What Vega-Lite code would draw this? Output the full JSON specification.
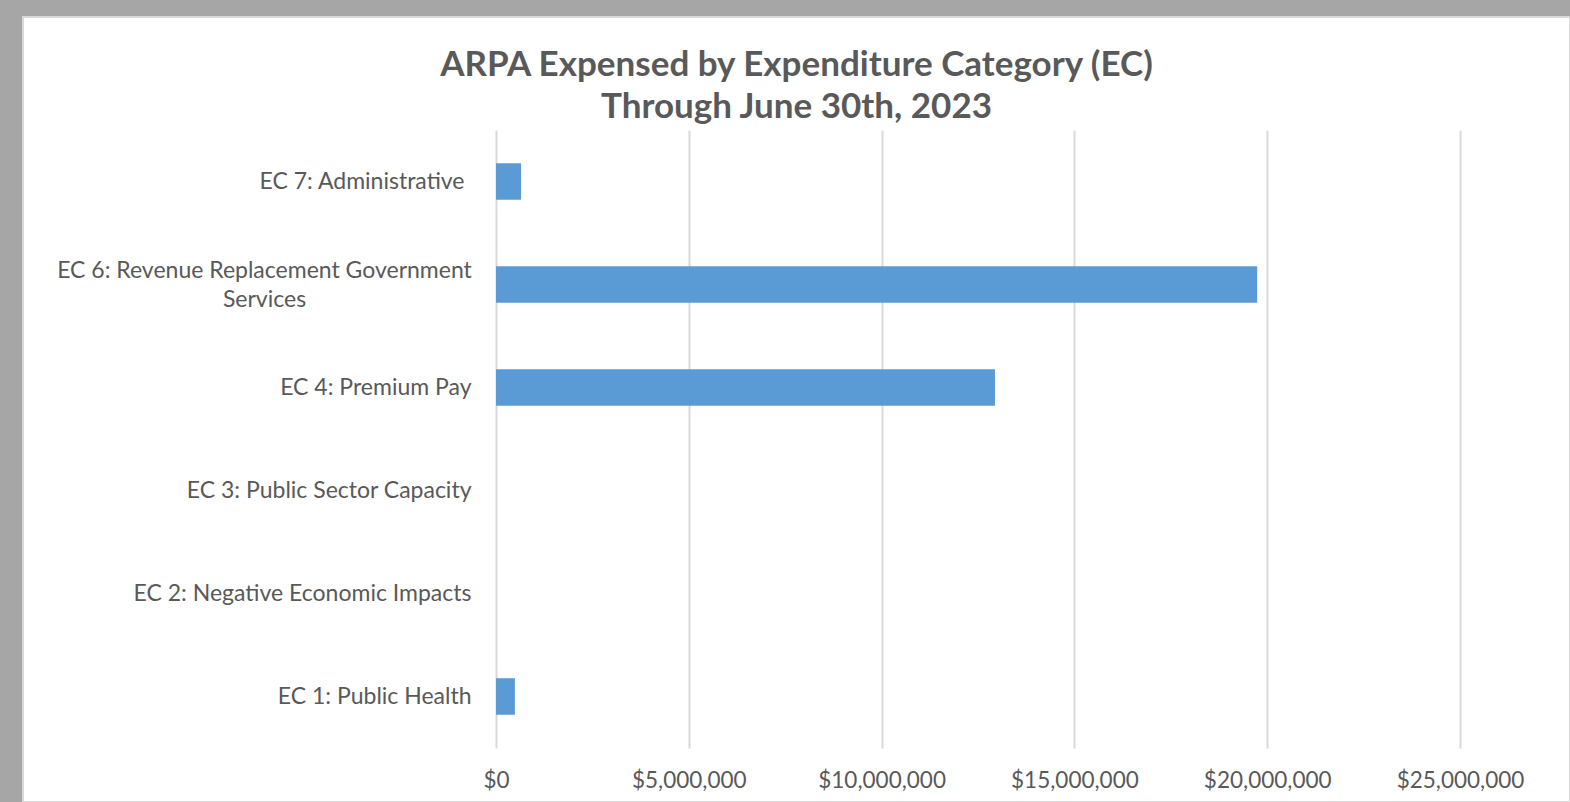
{
  "$schema": "https://vega.github.io/schema/vega-lite/v6.json",
  "width": 1547,
  "height": 785,
  "autosize": {"type": "none"},
  "padding": {"left": 23, "top": 17, "right": 0, "bottom": 0},
  "background": "#a6a6a6",
  "config": {
    "view": {"fill": "#ffffff", "stroke": "#d9d9d9", "strokeWidth": 2},
    "font": "Lato"
  },
  "title": {
    "text": ["ARPA Expensed by Expenditure Category (EC)", "Through June 30th, 2023"],
    "font": "Lato",
    "fontSize": 35,
    "fontWeight": "bold",
    "color": "#595959",
    "lineHeight": 42,
    "anchor": "middle",
    "offset": -108
  },
  "data": {
    "values": [
      {"category": "EC 7: Administrative", "expensed": 650000},
      {"category": "EC 6: Revenue Replacement Government Services", "expensed": 19740000},
      {"category": "EC 4: Premium Pay", "expensed": 12940000},
      {"category": "EC 3: Public Sector Capacity", "expensed": 0},
      {"category": "EC 2: Negative Economic Impacts", "expensed": 0},
      {"category": "EC 1: Public Health", "expensed": 490000}
    ]
  },
  "mark": {"type": "bar", "color": "#5b9bd5", "strokeWidth": 0},
  "encoding": {
    "y": {
      "field": "category",
      "type": "nominal",
      "sort": null,
      "scale": {
        "domain": [
          "EC 7: Administrative",
          "EC 6: Revenue Replacement Government Services",
          "EC 4: Premium Pay",
          "EC 3: Public Sector Capacity",
          "EC 2: Negative Economic Impacts",
          "EC 1: Public Health"
        ],
        "range": [113, 731],
        "paddingInner": 0.645,
        "paddingOuter": 0.3225,
        "round": false
      },
      "axis": {
        "title": null,
        "orient": "left",
        "offset": -450,
        "ticks": false,
        "domain": false,
        "grid": false,
        "labelFont": "Lato",
        "labelFontSize": 23,
        "labelColor": "#595959",
        "labelLimit": 0,
        "labelLineHeight": 29,
        "labelBaseline": "middle",
        "labelExpr": "datum.value == 'EC 6: Revenue Replacement Government Services' ? ['EC 6: Revenue Replacement Government', 'Services'] : datum.value",
        "labelAlign": {
          "condition": {"test": "datum.value == 'EC 6: Revenue Replacement Government Services'", "value": "center"},
          "value": "right"
        },
        "labelOffset": {
          "condition": {"test": "datum.value == 'EC 6: Revenue Replacement Government Services'", "value": -14},
          "value": 0
        },
        "labelPadding": {
          "condition": [
            {"test": "datum.value == 'EC 6: Revenue Replacement Government Services'", "value": 209},
            {"test": "datum.value == 'EC 7: Administrative'", "value": 9}
          ],
          "value": 2
        }
      }
    },
    "x": {
      "field": "expensed",
      "type": "quantitative",
      "scale": {"domain": [-12266600, 27852697], "nice": false, "zero": false},
      "axis": {
        "title": null,
        "orient": "bottom",
        "offset": -54,
        "values": [0, 5000000, 10000000, 15000000, 20000000, 25000000],
        "format": "$,.0f",
        "grid": false,
        "domain": false,
        "ticks": true,
        "tickSize": -618,
        "tickColor": "#d9d9d9",
        "tickWidth": 2,
        "labelFont": "Lato",
        "labelFontSize": 22.5,
        "labelColor": "#595959",
        "labelPadding": 639,
        "labelFlush": false,
        "labelOverlap": false
      }
    }
  }
}
